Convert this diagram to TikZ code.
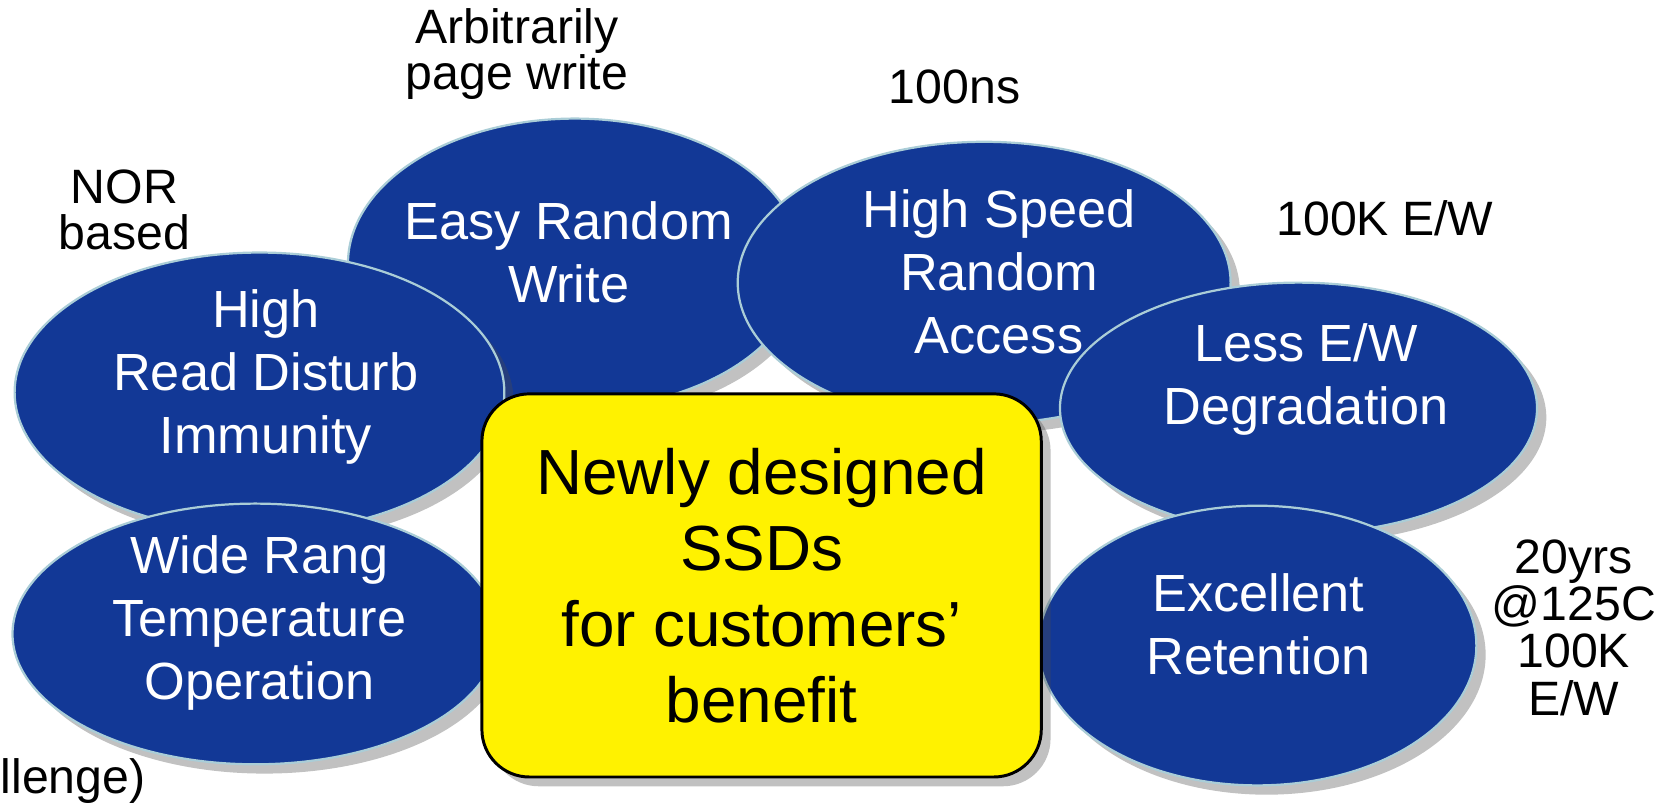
\documentclass[tikz,border=0pt]{standalone}
\usepackage{fontspec}
\setmainfont{Liberation Sans}
\usetikzlibrary{shapes.geometric, shadows}

\definecolor{blobblue}{RGB}{18,56,150}
\definecolor{blobedge}{RGB}{170,205,215}

\begin{document}
\begin{tikzpicture}[
    x=0.01cm, y=-0.01cm,
    blob/.style = {
      ellipse, draw=blobedge, line width=0.6pt,
      fill=blobblue, inner sep=0pt,
      drop shadow={shadow xshift=2.5pt, shadow yshift=-2.5pt,
                   opacity=0.35, fill=black!70}
    },
    blobtext/.style = {text=white, align=center, inner sep=0pt,
                       font=\fontsize{14.1}{17}\selectfont},
    core/.style = {
      draw=black, line width=0.8pt, fill=yellow,
      rounded corners=0.45cm, align=center,
      font=\fontsize{17.2}{20.5}\selectfont,
      drop shadow={shadow xshift=2.5pt, shadow yshift=-2.5pt,
                   opacity=0.35, fill=black!70}
    },
    note/.style = {align=center, inner sep=0pt,
                   font=\fontsize{13}{12.3}\selectfont}
  ]

    \useasboundingbox (0,0) rectangle (1568,761);

    % Ellipses, back to front
    \node[blob, minimum width=4.3cm, minimum height=2.75cm] (wr) at (545,250) {};
    \node[blobtext] (wrt) at (539,239) {Easy Random\\Write};

    \node[blob, minimum width=4.67cm, minimum height=2.67cm] (hs) at (933,268) {};
    \node[blobtext] (hst) at (947,258) {High Speed\\Random\\Access};

    \node[blob, minimum width=4.64cm, minimum height=2.65cm] (rd) at (246,372) {};
    \node[blobtext] (rdt) at (252,357) {High\\Read Disturb\\Immunity};

    \node[blob, minimum width=4.52cm, minimum height=2.38cm] (ew) at (1231,387) {};
    \node[blobtext] (ewt) at (1238,360) {Less E/W\\Degradation};

    \node[blob, minimum width=4.6cm, minimum height=2.47cm] (wt) at (242,601) {};
    \node[blobtext] (wtt) at (246,591) {Wide Rang\\Temperature\\Operation};

    \node[blob, minimum width=4.15cm, minimum height=2.65cm] (ex) at (1192,612) {};
    \node[blobtext] (ext) at (1193,592) {Excellent\\Retention};

    \node[core, minimum width=5.3cm, minimum height=3.63cm] (ssd) at (722,555)
      {Newly designed\\SSDs\\for customers’\\benefit};

    % Notes
    \node[note] (arb) at (490,51) {Arbitrarily\\page write};
    \node[note] (ns) at (905,82) {100ns};
    \node[note] (nor) at (118,199) {NOR\\based};
    \node[note] (kew) at (1313,207) {100K E/W};
    \node[note, font=\fontsize{13}{12.8}\selectfont] (ret) at (1492,595)
      {20yrs\\@125C\\100K\\E/W};
    \node[note, anchor=west] (chl) at (0,740) {llenge)};

  \end{tikzpicture}
\end{document}
